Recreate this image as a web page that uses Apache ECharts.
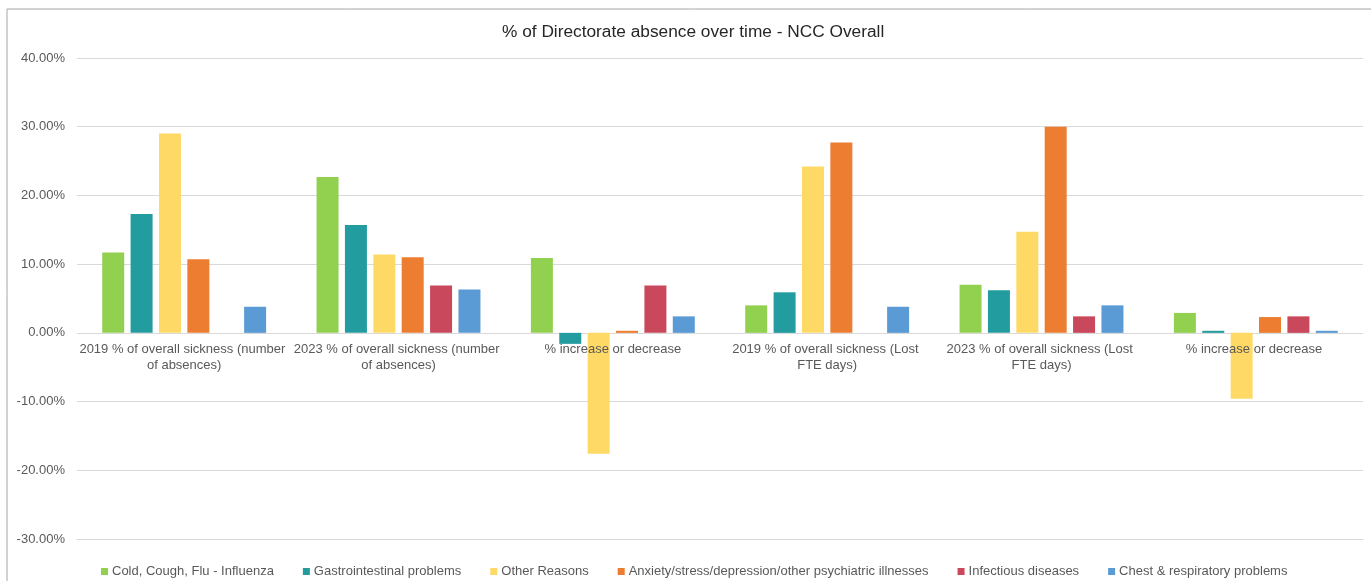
<!DOCTYPE html>
<html>
<head>
<meta charset="utf-8">
<title>% of Directorate absence over time - NCC Overall</title>
<script src="https://cdn.jsdelivr.net/npm/echarts@6/dist/echarts.min.js"></script>
<style>
  html, body { margin: 0; padding: 0; background: #ffffff; }
  #chart { width: 1371px; height: 581px; }
</style>
</head>
<body>
<div id="chart"></div>
<script>
// Category labels along the x axis
const categories = [
  '2019 % of overall sickness (number of absences)',
  '2023 % of overall sickness (number of absences)',
  '% increase or decrease',
  '2019 % of overall sickness (Lost FTE days)',
  '2023 % of overall sickness (Lost FTE days)',
  '% increase or decrease '
];

// Absence reasons (one bar series each)
const reasons = [
  'Cold, Cough, Flu - Influenza',
  'Gastrointestinal problems',
  'Other Reasons',
  'Anxiety/stress/depression/other psychiatric illnesses',
  'Infectious diseases',
  'Chest & respiratory problems'
];

// Values in percent, one entry per category
const coldFlu       = [11.7, 22.7, 10.9, 4.0, 7.0, 2.9];
const gastro        = [17.3, 15.7, -1.6, 5.9, 6.2, 0.3];
const otherReasons  = [29.0, 11.4, -17.6, 24.2, 14.7, -9.6];
const anxiety       = [10.7, 11.0, 0.3, 27.7, 30.0, 2.3];
const infectious    = [null, 6.9, 6.9, null, 2.4, 2.4];
const chest         = [3.8, 6.3, 2.4, 3.8, 4.0, 0.3];

// Y axis range and tick step, in percent
const yMin = -30;
const yMax = 40;
const yStep = 10;

const seriesValues = [coldFlu, gastro, otherReasons, anxiety, infectious, chest];
const colors = ['#92D050', '#229C9E', '#FFD966', '#ED7D31', '#C9485B', '#5B9BD5'];

const FONT = '"Liberation Sans", Arial, sans-serif';

// Plot area layout
const W = 1371, H = 581;
const gridTop = 58, gridBottom = 42;
const plotH = H - gridTop - gridBottom;
// Category labels sit just under the zero line rather than at the bottom edge
const zeroOffsetFromBottom = plotH * (0 - yMin) / (yMax - yMin);
const labelGap = 9;

const chart = echarts.init(document.getElementById('chart'), null, { renderer: 'canvas' });

chart.setOption({
  animation: false,
  backgroundColor: '#ffffff',
  textStyle: { fontFamily: FONT },
  color: colors,
  graphic: [{
    type: 'rect',
    shape: { x: 7, y: 9, width: 1400, height: 620 },
    style: { fill: 'none', stroke: '#a6a6a6', lineWidth: 1 },
    silent: true
  }],
  title: {
    text: '% of Directorate absence over time - NCC Overall',
    left: 497,
    top: 19,
    textStyle: { fontFamily: FONT, fontSize: 17.3, fontWeight: 'normal', color: '#262626' }
  },
  legend: {
    data: reasons,
    left: 96,
    top: 560,
    icon: 'rect',
    itemWidth: 7,
    itemHeight: 7,
    itemGap: 29,
    textStyle: { fontFamily: FONT, fontSize: 13, color: '#595959', padding: [0, 0, 0, -1] }
  },
  grid: { left: 77, right: 8, top: gridTop, bottom: gridBottom, containLabel: false },
  xAxis: {
    type: 'category',
    data: categories,
    z: 5,
    axisLine: { onZero: false, lineStyle: { color: '#d9d9d9', width: 1 } },
    axisTick: { show: false },
    axisLabel: {
      interval: 0,
      fontFamily: FONT,
      fontSize: 13,
      color: '#595959',
      lineHeight: 16,
      margin: -(zeroOffsetFromBottom - labelGap),
      verticalAlign: 'top',
      width: 212,
      overflow: 'break'
    }
  },
  yAxis: {
    type: 'value',
    min: yMin,
    max: yMax,
    interval: yStep,
    axisLine: { show: false },
    axisTick: { show: false },
    splitLine: { lineStyle: { color: '#d9d9d9', width: 1 } },
    axisLabel: {
      fontFamily: FONT,
      fontSize: 13,
      color: '#595959',
      margin: 12,
      formatter: v => v.toFixed(2) + '%'
    }
  },
  series: reasons.map((name, i) => ({
    name: name,
    type: 'bar',
    data: seriesValues[i],
    barWidth: 22,
    barGap: '29%',
    itemStyle: { color: colors[i] }
  }))
});
</script>
</body>
</html>
